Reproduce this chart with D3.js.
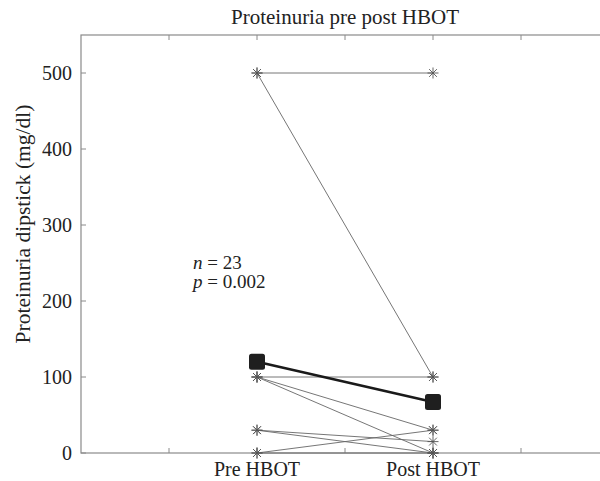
<!DOCTYPE html>
<html>
<head>
<meta charset="utf-8">
<script src="https://cdn.jsdelivr.net/npm/d3@7"></script>
<style>
  body { margin: 0; background: #fff; }
  text { font-family: "Liberation Serif", "DejaVu Serif", serif; fill: #222; }
</style>
</head>
<body>
<svg width="600" height="481"></svg>
<script>
// x positions of the two measurements (axis runs 0..6)
var groups = ["Pre HBOT", "Post HBOT"];
var groupX = [2, 4];
// individual patients: pre value, post value (mg/dl)
var preVals  = [500, 500, 100, 100, 100, 30, 30, 0, 0];
var postVals = [500, 100, 100, 30, 0, 15, 0, 30, 0];
// mean values
var meanVals = [120, 67];
var yTicks = [0, 100, 200, 300, 400, 500];
var xTicks = [1, 2, 3, 4, 5];

var svg = d3.select("svg");
var plotL = 81, plotR = 609, plotT = 35, plotB = 453;
var font = 20;

var x = d3.scaleLinear().domain([0, 6]).range([plotL, plotR]);
var y = d3.scaleLinear().domain([0, 550]).range([plotB, plotT]);

var axisColor = "#8a8a8a";

// frame
svg.append("rect")
  .attr("x", plotL).attr("y", plotT)
  .attr("width", plotR - plotL).attr("height", plotB - plotT)
  .attr("fill", "none").attr("stroke", axisColor).attr("stroke-width", 1.2);

// left axis ticks (inward)
svg.append("g").selectAll("line").data(yTicks).join("line")
  .attr("x1", plotL).attr("x2", plotL + 5)
  .attr("y1", function(d) { return y(d); }).attr("y2", function(d) { return y(d); })
  .attr("stroke", axisColor);
svg.append("g").selectAll("text").data(yTicks).join("text")
  .attr("x", plotL - 9).attr("y", function(d) { return y(d) + 7; })
  .attr("text-anchor", "end").attr("font-size", font)
  .text(function(d) { return d; });

// top and bottom x ticks (inward)
svg.append("g").selectAll("line").data(xTicks).join("line")
  .attr("x1", function(d) { return x(d); }).attr("x2", function(d) { return x(d); })
  .attr("y1", plotT).attr("y2", plotT + 5)
  .attr("stroke", axisColor);
svg.append("g").selectAll("line").data(xTicks).join("line")
  .attr("x1", function(d) { return x(d); }).attr("x2", function(d) { return x(d); })
  .attr("y1", plotB).attr("y2", plotB - 5)
  .attr("stroke", axisColor);
svg.append("g").selectAll("text").data(groups).join("text")
  .attr("x", function(d, i) { return x(groupX[i]); }).attr("y", 476)
  .attr("text-anchor", "middle").attr("font-size", font)
  .text(function(d) { return d; });

// titles
svg.append("text")
  .attr("x", (plotL + plotR) / 2).attr("y", 24)
  .attr("text-anchor", "middle").attr("font-size", font + 1)
  .text("Proteinuria pre post HBOT");
svg.append("text")
  .attr("transform", "translate(30,224) rotate(-90)")
  .attr("text-anchor", "middle").attr("font-size", font + 1.5)
  .text("Proteinuria dipstick (mg/dl)");

// individual lines
var pairs = preVals.map(function(v, i) { return [v, postVals[i]]; });
svg.append("g").selectAll("line").data(pairs).join("line")
  .attr("x1", x(groupX[0])).attr("x2", x(groupX[1]))
  .attr("y1", function(d) { return y(d[0]); })
  .attr("y2", function(d) { return y(d[1]); })
  .attr("stroke", "#666").attr("stroke-width", 0.9);

// star markers (+ and x)
var pts = [];
pairs.forEach(function(d) {
  pts.push([groupX[0], d[0]]);
  pts.push([groupX[1], d[1]]);
});
var r = 5.5, s = r * 0.7071;
var starPath = "M" + (-r) + ",0L" + r + ",0M0," + (-r) + "L0," + r +
  "M" + (-s) + "," + (-s) + "L" + s + "," + s + "M" + (-s) + "," + s + "L" + s + "," + (-s);
svg.append("g").selectAll("path").data(pts).join("path")
  .attr("transform", function(d) { return "translate(" + x(d[0]) + "," + y(d[1]) + ")"; })
  .attr("d", starPath)
  .attr("stroke", "#555").attr("stroke-width", 0.9).attr("fill", "none");

// mean line
svg.append("line")
  .attr("x1", x(groupX[0])).attr("x2", x(groupX[1]))
  .attr("y1", y(meanVals[0])).attr("y2", y(meanVals[1]))
  .attr("stroke", "#1a1a1a").attr("stroke-width", 2.6);
svg.append("g").selectAll("rect").data(meanVals).join("rect")
  .attr("x", function(d, i) { return x(groupX[i]) - 8; })
  .attr("y", function(d) { return y(d) - 8; })
  .attr("width", 16).attr("height", 16).attr("rx", 2.5)
  .attr("fill", "#1f1f1f");

// annotation
var ann = svg.append("text").attr("x", 193).attr("y", 269).attr("font-size", 19);
ann.append("tspan").attr("font-style", "italic").text("n");
ann.append("tspan").text(" = 23");
var ann2 = svg.append("text").attr("x", 193).attr("y", 288).attr("font-size", 19);
ann2.append("tspan").attr("font-style", "italic").text("p");
ann2.append("tspan").text(" = 0.002");
</script>
</body>
</html>
